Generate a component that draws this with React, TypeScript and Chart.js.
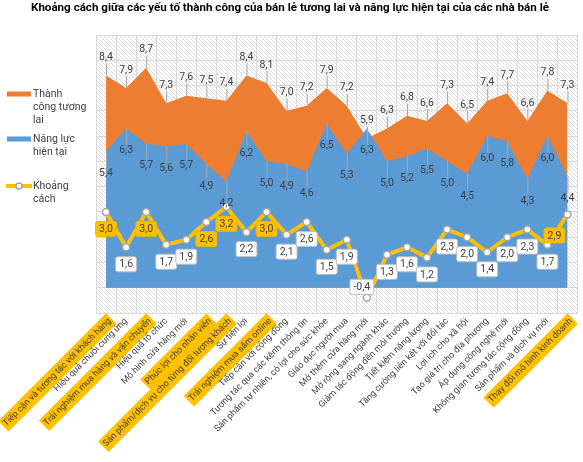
import React, { useEffect, useRef } from "react";
import { Chart, registerables } from "chart.js";
Chart.register(...registerables);

const chartTitle =
  "Khoảng cách giữa các yếu tố thành công của bán lẻ tương lai và năng lực hiện tại của các nhà bán lẻ";

const categories = [
  "Tiếp cận và tương tác với khách hàng",
  "Hiệu quả chuỗi cung ứng",
  "Trải nghiệm mua hàng và vận chuyển",
  "Hiệu quả tổ chức",
  "Mô hình cửa hàng mới",
  "Phúc lợi cho nhân viên",
  "Sản phẩm/dịch vụ cho từng đối tượng khách",
  "Sự tiện lợi",
  "Trải nghiệm mua sắm online",
  "Tiếp cận với cộng đồng",
  "Tương tác qua các kênh thông tin",
  "Sản phẩm tự nhiên, có lợi cho sức khỏe",
  "Giáo dục người mua",
  "Mở thêm cửa hàng mới",
  "Mở rộng sang ngành khác",
  "Giảm tác động đến môi trường",
  "Tiết kiệm năng lượng",
  "Tăng cường liên kết với đối tác",
  "Lợi ích cho xã hội",
  "Tạo giá trị cho địa phương",
  "Áp dụng công nghệ mới",
  "Không gian tương tác cộng đồng",
  "Sản phẩm và dịch vụ mới",
  "Thay đổi mô hình kinh doanh",
];

const futureSuccess = [8.4, 7.9, 8.7, 7.3, 7.6, 7.5, 7.4, 8.4, 8.1, 7.0, 7.2, 7.9, 7.2, 5.9, 6.3, 6.8, 6.6, 7.3, 6.5, 7.4, 7.7, 6.6, 7.8, 7.3];
const currentCapability = [5.4, 6.3, 5.7, 5.6, 5.7, 4.9, 4.2, 6.2, 5.0, 4.9, 4.6, 6.5, 5.3, 6.3, 5.0, 5.2, 5.5, 5.0, 4.5, 6.0, 5.8, 4.3, 6.0, 4.4];
const gapValues = [3.0, 1.6, 3.0, 1.7, 1.9, 2.6, 3.2, 2.2, 3.0, 2.1, 2.6, 1.5, 1.9, -0.4, 1.3, 1.6, 1.2, 2.3, 2.0, 1.4, 2.0, 2.3, 1.7, 2.9];
const highlighted = [0, 2, 5, 6, 8, 23];

const seriesNames = ["Thành công tương lai", "Năng lực hiện tại", "Khoảng cách"];
const legendLines = [["Thành", "công tương", "lai"], ["Năng lực", "hiện tại"], ["Khoảng", "cách"]];

const yMin = -1;
const yMax = 10;

const ORANGE = "#ED7D31";
const BLUE = "#5B9BD5";
const YELLOW = "#FFC000";
const TEXT = "#404040";
const FONT = "Roboto";

const fmt = (v: number) => v.toFixed(1).replace(".", ",");

function makePattern(): CanvasPattern | string {
  const pc = document.createElement("canvas");
  pc.width = 4;
  pc.height = 4;
  const c = pc.getContext("2d");
  if (!c) return "#f5f5f5";
  c.fillStyle = "#ffffff";
  c.fillRect(0, 0, 4, 4);
  c.fillStyle = "#dcdcdc";
  for (let i = 0; i < 4; i++) c.fillRect(i, i, 1, 1);
  const p = c.createPattern(pc, "repeat");
  return p || "#f5f5f5";
}

export default function App() {
  const ref = useRef<HTMLCanvasElement | null>(null);

  useEffect(() => {
    document.body.style.margin = "0";
    const canvas = ref.current;
    if (!canvas) return;
    const pattern = makePattern();

    const custom = {
      id: "customDraw",
      beforeDraw(chart: any) {
        const { ctx, chartArea: a } = chart;
        ctx.save();
        ctx.fillStyle = pattern;
        ctx.fillRect(a.left, a.top, a.right - a.left, a.bottom - a.top);
        ctx.restore();
      },
      afterDatasetsDraw(chart: any) {
        const { ctx } = chart;
        const mFut = chart.getDatasetMeta(0);
        const mCur = chart.getDatasetMeta(1);
        const mGap = chart.getDatasetMeta(2);
        ctx.save();
        ctx.font = `10.5px ${FONT}`;
        ctx.textAlign = "center";
        ctx.textBaseline = "middle";
        mFut.data.forEach((pt: any, i: number) => {
          const ly = pt.y - 18;
          ctx.strokeStyle = "#a6a6a6";
          ctx.lineWidth = 1;
          ctx.beginPath();
          ctx.moveTo(pt.x + 0.5, ly + 6);
          ctx.lineTo(pt.x + 0.5, pt.y);
          ctx.stroke();
          ctx.fillStyle = TEXT;
          ctx.fillText(fmt(futureSuccess[i]), pt.x, ly);
        });
        mCur.data.forEach((pt: any, i: number) => {
          const ly = pt.y + 22;
          ctx.strokeStyle = "#a6a6a6";
          ctx.lineWidth = 1;
          ctx.beginPath();
          ctx.moveTo(pt.x + 0.5, pt.y);
          ctx.lineTo(pt.x + 0.5, ly - 6);
          ctx.stroke();
          ctx.fillStyle = TEXT;
          ctx.fillText(fmt(currentCapability[i]), pt.x, ly);
        });
        mGap.data.forEach((pt: any, i: number) => {
          const v = gapValues[i];
          let cx = pt.x;
          let cy = pt.y + 17;
          if (v < 0) {
            cx = pt.x - 5;
            cy = pt.y - 11;
          } else if (i === gapValues.length - 1) {
            cx = pt.x - 13;
            cy = pt.y + 21;
          }
          const txt = fmt(v);
          const w = ctx.measureText(txt).width + 7;
          const h = 15;
          const isHi = highlighted.includes(i);
          ctx.beginPath();
          ctx.roundRect(cx - w / 2, cy - h / 2, w, h, 2);
          ctx.fillStyle = isHi ? YELLOW : "#ffffff";
          ctx.fill();
          ctx.strokeStyle = isHi ? "#f0b400" : "#bfbfbf";
          ctx.lineWidth = 1;
          ctx.stroke();
          ctx.fillStyle = TEXT;
          ctx.fillText(txt, cx, cy + 0.5);
        });
        ctx.restore();
      },
      afterDraw(chart: any) {
        const { ctx } = chart;
        ctx.save();
        ctx.fillStyle = "#000";
        ctx.font = `bold 11.6px ${FONT}`;
        ctx.textAlign = "center";
        ctx.textBaseline = "middle";
        ctx.fillText(chartTitle, 290, 8);

        const colors = [ORANGE, BLUE, YELLOW];
        const ys = [94, 139, 186];
        ctx.font = `10.5px ${FONT}`;
        ctx.textAlign = "left";
        legendLines.forEach((lines, k) => {
          const y = ys[k];
          ctx.fillStyle = colors[k];
          if (k < 2) {
            ctx.fillRect(7, y - 2.5, 24, 5);
          } else {
            ctx.fillRect(6, y - 2, 26, 4);
            ctx.beginPath();
            ctx.arc(19, y, 3, 0, Math.PI * 2);
            ctx.fillStyle = "#fff";
            ctx.fill();
            ctx.strokeStyle = "#a6a6a6";
            ctx.lineWidth = 1.5;
            ctx.stroke();
          }
          ctx.fillStyle = TEXT;
          lines.forEach((ln, j) => ctx.fillText(ln, 33, y + j * 13));
        });
        ctx.restore();
      },
    };

    const chart = new Chart(canvas, {
      type: "line",
      data: {
        labels: categories,
        datasets: [
          {
            label: seriesNames[0],
            data: futureSuccess,
            backgroundColor: ORANGE,
            borderWidth: 0,
            pointRadius: 0,
            fill: "origin",
            order: 3,
          },
          {
            label: seriesNames[1],
            data: currentCapability,
            backgroundColor: BLUE,
            borderWidth: 0,
            pointRadius: 0,
            fill: "origin",
            order: 2,
          },
          {
            label: seriesNames[2],
            data: gapValues,
            borderColor: YELLOW,
            borderWidth: 4,
            pointRadius: 3.5,
            pointBackgroundColor: "#ffffff",
            pointBorderColor: "#a6a6a6",
            pointBorderWidth: 1.5,
            fill: false,
            order: 1,
          },
        ],
      },
      options: {
        responsive: false,
        animation: false,
        layout: { padding: { left: 96, right: 3, top: 35, bottom: 0 } },
        plugins: {
          legend: { display: false },
          title: { display: false },
          tooltip: { enabled: false },
        },
        scales: {
          x: {
            type: "category",
            offset: true,
            grid: { offset: true, color: "#d9d9d9", drawTicks: false },
            border: { color: "#d9d9d9" },
            ticks: {
              autoSkip: false,
              minRotation: 45,
              maxRotation: 45,
              padding: 3,
              color: TEXT,
              font: { family: FONT, size: 9 },
              showLabelBackdrop: (c: any) => highlighted.includes(c.index),
              backdropColor: YELLOW,
              backdropPadding: 2,
            },
            afterFit: (s: any) => {
              s.height = 462 - 313;
              s.paddingLeft = 0;
              s.paddingRight = 0;
            },
          },
          y: {
            min: yMin,
            max: yMax,
            grid: { color: "#d9d9d9", drawTicks: false },
            border: { color: "#d9d9d9" },
            ticks: { display: false, stepSize: 1 },
            afterFit: (s: any) => {
              s.width = 0;
              s.paddingTop = 0;
              s.paddingBottom = 0;
            },
          },
        },
      },
      plugins: [custom],
    } as any);

    return () => chart.destroy();
  }, []);

  return (
    <div style={{ width: 583, height: 462 }}>
      <canvas ref={ref} width={583} height={462} style={{ width: 583, height: 462 }} />
    </div>
  );
}
